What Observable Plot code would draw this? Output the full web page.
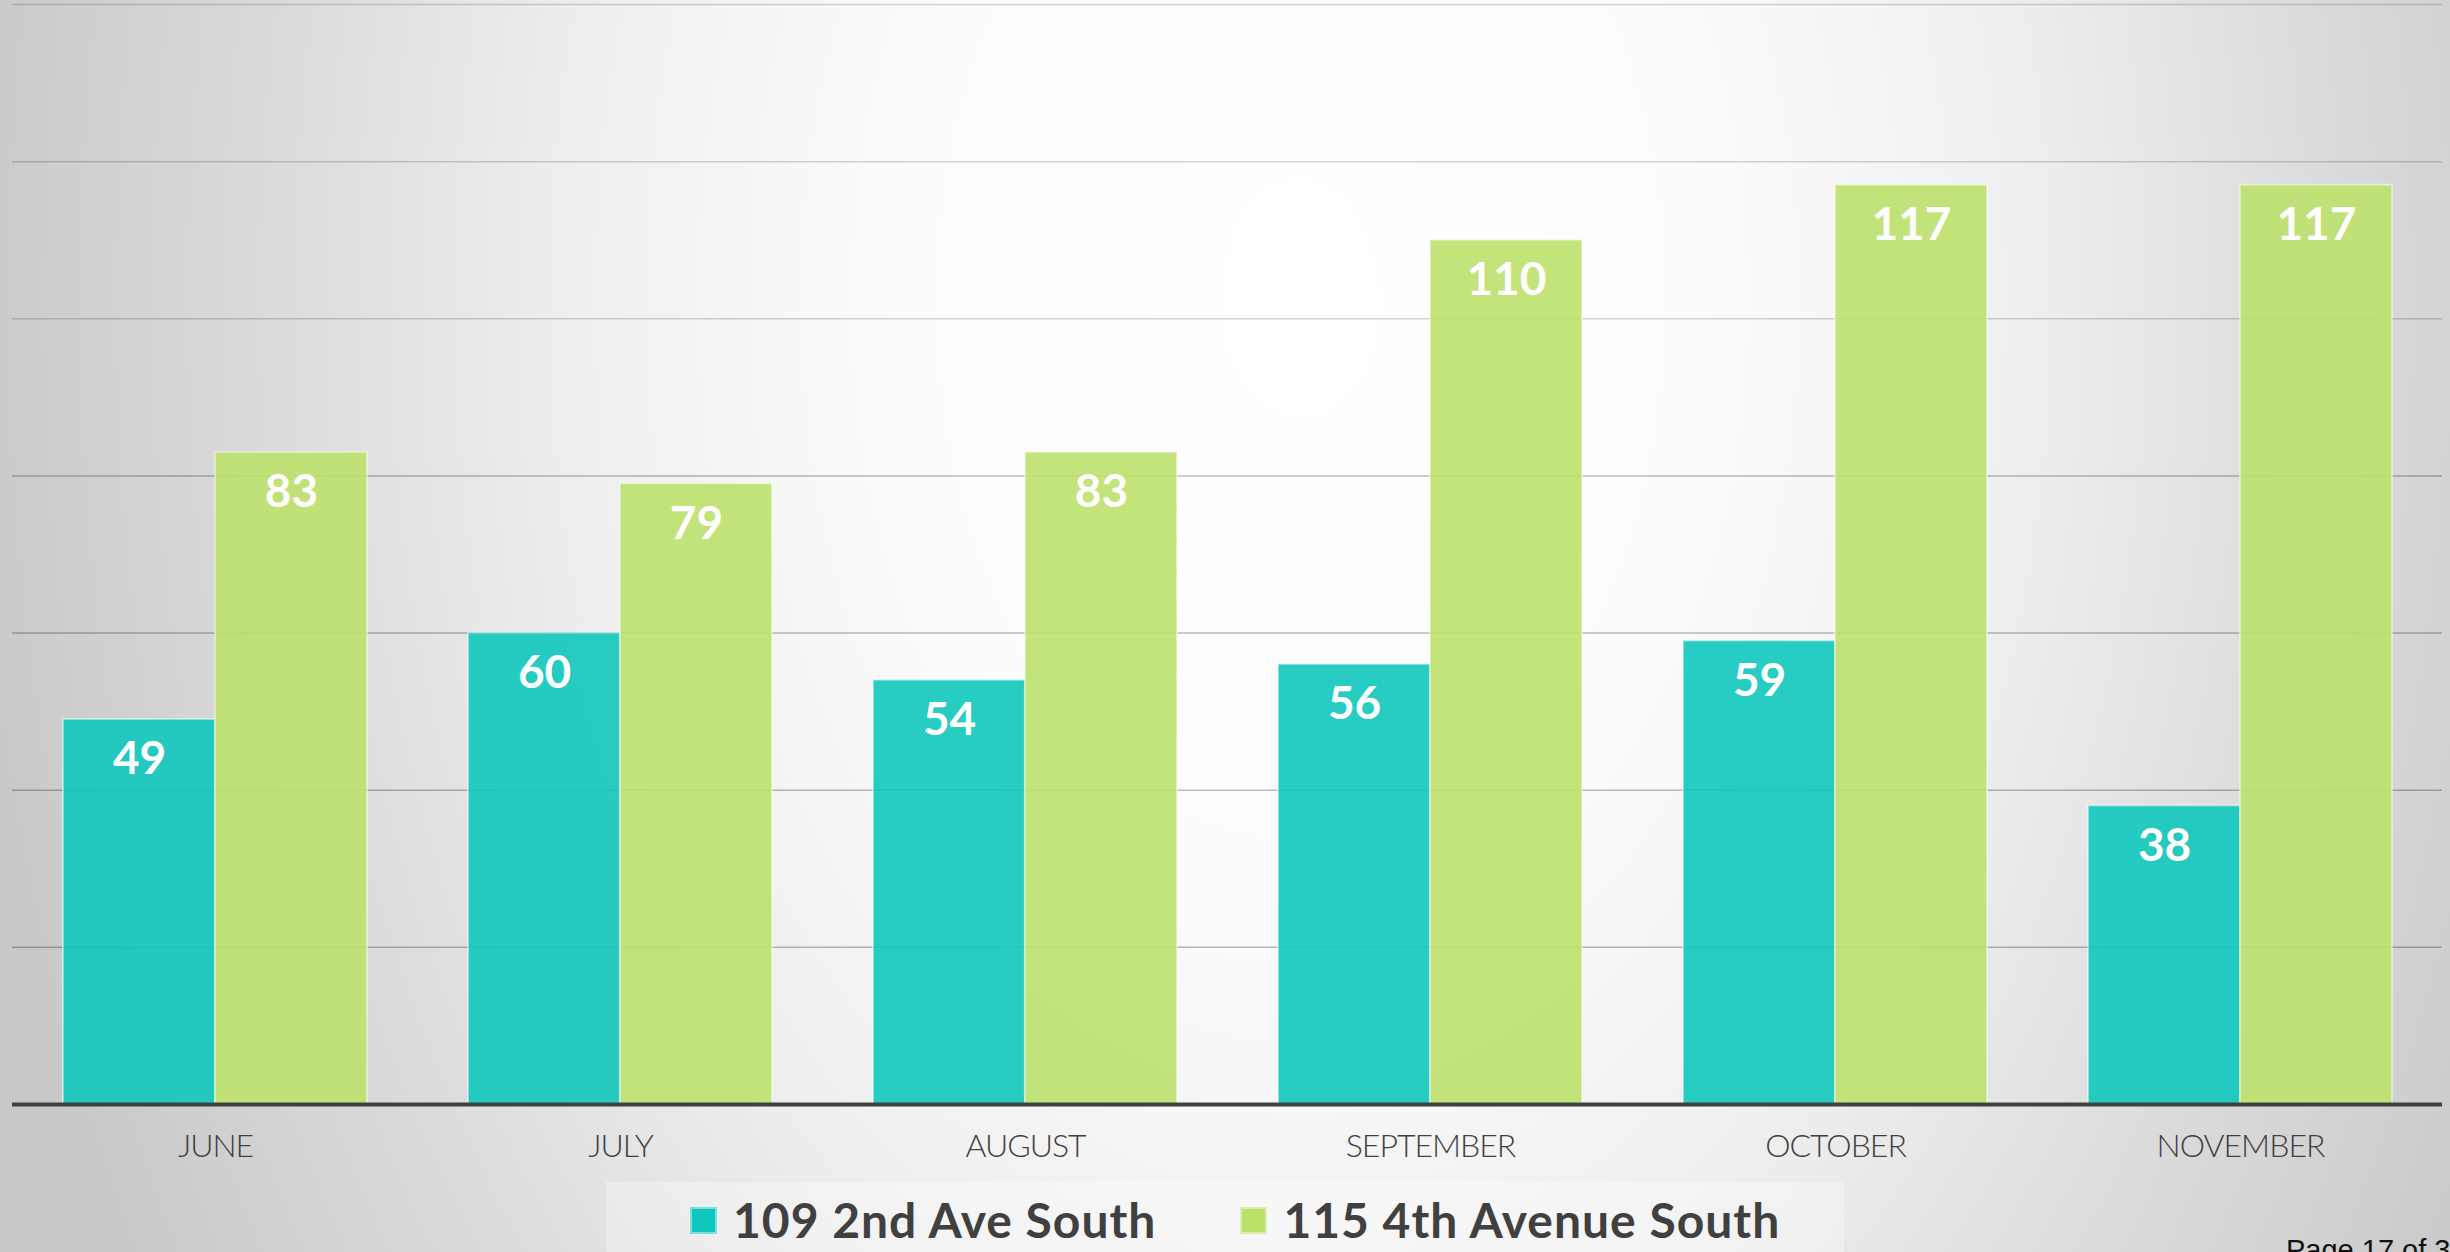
<!DOCTYPE html>
<html>
<head>
<meta charset="utf-8">
<script src="https://cdn.jsdelivr.net/npm/d3@7"></script>
<script src="https://cdn.jsdelivr.net/npm/@observablehq/plot@0.6"></script>
<style>
  html, body { margin: 0; padding: 0; width: 2450px; height: 1252px; overflow: hidden; }
  body {
    background: radial-gradient(ellipse 1350px 2000px at 1300px 300px,
      #ffffff 0%, #fcfcfc 30%, #eeeeee 55%, #dcdcdc 75%, #c8c8c8 100%);
    font-family: Lato, "Open Sans", sans-serif;
  }
  #wrap { position: relative; width: 2450px; height: 1252px; }
  #chart { position: absolute; left: 0; top: 0; }
  #legend {
    position: absolute; left: 606px; top: 1182px; width: 1238px; height: 80px;
    background: rgba(255,255,255,0.32);
    display: flex; align-items: flex-start; padding-left: 84px; box-sizing: border-box;
  }
  .item { display: flex; align-items: center; margin-top: 14px; }
  .item + .item { margin-left: 84px; }
  .sw { width: 27px; height: 27px; box-sizing: border-box; border: 2px solid rgba(255,255,255,0.45); margin-right: 16px; }
  .lab { font-family: Lato, sans-serif; font-weight: 700; font-size: 48px; letter-spacing: 1px; color: #404040; line-height: 48px; }
  #page {
    position: absolute; left: 2286px; top: 1236px; font-family: "Liberation Sans", Arial, sans-serif;
    font-size: 29px; line-height: 29px; color: #111; white-space: nowrap;
  }
</style>
</head>
<body>
<div id="wrap">
  <div id="chart"></div>
  <div id="legend"></div>
  <div id="page">Page 17 of 33</div>
</div>
<script>
// ---- data ----
const months = ["JUNE", "JULY", "AUGUST", "SEPTEMBER", "OCTOBER", "NOVEMBER"];
const seriesNames = ["109 2nd Ave South", "115 4th Avenue South"];
const values109 = [49, 60, 54, 56, 59, 38];
const values115 = [83, 79, 83, 110, 117, 117];
const gridTicksUpper = [100, 120, 140];
const gridTicksLower = [20, 40, 60, 80];
const yDomain = [0, 140];

// ---- layout ----
const colors = ["#0fc6bd", "#bce16b"];
const W = 2450, H = 1178;
const mL = 12, mR = 8, mT = 4, mB = H - 1104;
const band = d3.scaleBand(months, [mL, W - mR]).paddingInner(0.25).paddingOuter(0.125);
const half = band.bandwidth() / 2;

const rows = months.map((m, i) => ({month: m, a: values109[i], b: values115[i]}));

const chart = Plot.plot({
  width: W, height: H,
  marginLeft: mL, marginRight: mR, marginTop: mT, marginBottom: mB,
  style: {background: "transparent", fontFamily: "Lato, sans-serif", overflow: "visible"},
  x: {domain: months, paddingInner: 0.25, paddingOuter: 0.125, axis: null},
  y: {domain: yDomain, axis: null},
  marks: [
    Plot.ruleY(gridTicksUpper, {stroke: "#000", strokeOpacity: 0.17, strokeWidth: 1.5}),
    Plot.ruleY(gridTicksLower, {stroke: "#000", strokeOpacity: 0.27, strokeWidth: 1.5}),
    Plot.barY(rows, {x: "month", y: "a", fill: colors[0], fillOpacity: 0.9,
      stroke: "#ffffff", strokeOpacity: 0.45, strokeWidth: 2, insetRight: half}),
    Plot.barY(rows, {x: "month", y: "b", fill: colors[1], fillOpacity: 0.9,
      stroke: "#ffffff", strokeOpacity: 0.45, strokeWidth: 2, insetLeft: half}),
    Plot.ruleY([0], {stroke: "#404040", strokeWidth: 4}),
    Plot.text(rows, {x: "month", y: "a", text: d => String(d.a), dx: -half / 2, dy: 40,
      fill: "#ffffff", fontSize: 46, fontWeight: 700}),
    Plot.text(rows, {x: "month", y: "b", text: d => String(d.b), dx: half / 2, dy: 40,
      fill: "#ffffff", fontSize: 46, fontWeight: 700}),
    Plot.axisX({tickSize: 0, tickPadding: 30, fontSize: 32, fontWeight: 300, fill: "#404040",
      letterSpacing: "-1px", label: null})
  ]
});
document.getElementById("chart").appendChild(chart);
chart.querySelectorAll("g[aria-label='x-axis tick label'] text").forEach(t => t.style.letterSpacing = "-1px");

// ---- legend ----
const legend = document.getElementById("legend");
seriesNames.forEach((name, i) => {
  const item = document.createElement("div");
  item.className = "item";
  const sw = document.createElement("div");
  sw.className = "sw";
  sw.style.background = colors[i];
  const lab = document.createElement("span");
  lab.className = "lab";
  lab.textContent = name;
  item.appendChild(sw);
  item.appendChild(lab);
  legend.appendChild(item);
});
</script>
</body>
</html>
